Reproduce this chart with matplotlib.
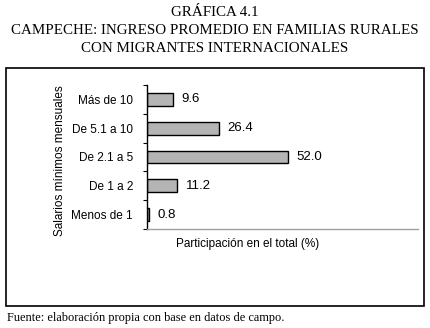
import numpy as np
import matplotlib
matplotlib.use("Agg")
from matplotlib import pyplot as plt
from matplotlib.patches import Rectangle

# Datos de la gráfica (de arriba hacia abajo)
categorias = ["Más de 10", "De 5.1 a 10", "De 2.1 a 5", "De 1 a 2", "Menos de 1"]
valores = [9.6, 26.4, 52.0, 11.2, 0.8]
etiquetas = ["9.6", "26.4", "52.0", "11.2", "0.8"]

titulo = ["GRÁFICA 4.1",
          "CAMPECHE: INGRESO PROMEDIO EN FAMILIAS RURALES",
          "CON MIGRANTES INTERNACIONALES"]
fuente = "Fuente: elaboración propia con base en datos de campo."

plt.rcParams['font.family'] = ['Liberation Sans', 'DejaVu Sans']
serif = ['Liberation Serif', 'DejaVu Serif']

fig = plt.figure(figsize=(4.3, 3.28), dpi=100)

# Marco exterior
fig.patches.append(Rectangle((6 / 430, 1 - 306 / 328), 418 / 430, 238 / 328,
                             transform=fig.transFigure, fill=False,
                             edgecolor='black', linewidth=1.2))

ax = fig.add_axes([147 / 430, 1 - 229 / 328, 271 / 430, 144 / 328])

y = np.arange(len(categorias))[::-1]
ax.barh(y, valores, height=0.45, color='#b4b4b4', edgecolor='black', linewidth=1.0)

for yi, v, t in zip(y, valores, etiquetas):
    ax.text(v + 3.2, yi, t, va='center', ha='left', fontsize=9.5)

ax.set_xlim(0, 100)
ax.set_ylim(-0.5, len(categorias) - 0.5)
ax.set_yticks(y)
ax.set_yticklabels(categorias, fontsize=8.5)
ax.set_yticks(np.arange(-0.5, len(categorias), 1.0), minor=True)
ax.tick_params(axis='y', which='major', length=0, pad=10)
ax.tick_params(axis='y', which='minor', length=3, width=0.8, direction='out')
ax.set_xticks([])

for s in ['top', 'right']:
    ax.spines[s].set_visible(False)
ax.spines['bottom'].set_color('#a0a0a0')
ax.spines['bottom'].set_linewidth(1.0)
ax.spines['left'].set_linewidth(1.0)

fig.text(60 / 430, 1 - 161 / 328, "Salarios mínimos mensuales", rotation=90,
         ha='center', va='center', fontsize=8.5)
fig.text(248 / 430, 1 - 244 / 328, "Participación en el total (%)",
         ha='center', va='center', fontsize=8.5)

for linea, yy in zip(titulo, [13, 31, 48]):
    fig.text(0.5, 1 - yy / 328, linea, ha='center', va='center',
             family=serif, fontsize=10.8)
fig.text(7 / 430, 1 - 318 / 328, fuente, ha='left', va='center',
         family=serif, fontsize=8.9)

plt.savefig("out.png", dpi=100)
